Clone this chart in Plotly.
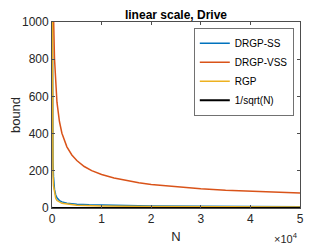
import plotly.graph_objects as go

# Data
n_ss = [20, 50, 100, 200, 300, 500, 750, 1000, 1500, 2000, 3000, 5000, 7500, 10000, 15000, 20000, 30000, 40000, 50000]
drgp_ss = [1500, 950, 500, 250, 170, 100, 70, 55, 40, 33, 26, 20, 17, 15, 12, 11, 9, 8, 7]

n_vss = [100, 200, 300, 500, 750, 1000, 1500, 2000, 3000, 4000, 5000, 6500, 8000, 10000, 12500, 15000, 17500, 20000, 25000, 30000, 35000, 40000, 45000, 50000]
drgp_vss = [1800, 1270, 1040, 805, 657, 569, 465, 402, 329, 285, 255, 223, 201, 180, 161, 147, 136, 127, 114, 104, 96, 90, 85, 81]

n_rgp = [10, 50, 100, 200, 300, 500, 750, 1000, 2000, 5000, 10000, 20000, 30000, 40000, 50000]
rgp = [1500, 700, 350, 180, 120, 75, 52, 40, 25, 15, 11, 8, 6.5, 5.5, 5]

n_ref = [1, 4, 25, 100, 1000, 10000, 50000]
inv_sqrt = [1, 0.5, 0.2, 0.1, 0.032, 0.01, 0.0045]

x_tickvals = [0, 10000, 20000, 30000, 40000, 50000]
x_ticktext = ["0", "1", "2", "3", "4", "5"]
y_tickvals = [0, 200, 400, 600, 800, 1000]

colors = ["#0072BD", "#D95319", "#EDB120", "#000000"]
FONT = "Liberation Sans, Arial, sans-serif"

# page body has an 8px margin, so the figure is sized to fit the 332x249 window
W, H = 324, 241
L, R, T, B = 44, 32, 14, 41
PW, PH = W - L - R, H - T - B

fig = go.Figure()
fig.add_trace(go.Scatter(x=n_ss, y=drgp_ss, mode="lines", name="DRGP-SS",
                         line=dict(color=colors[0], width=1.5)))
fig.add_trace(go.Scatter(x=n_vss, y=drgp_vss, mode="lines", name="DRGP-VSS",
                         line=dict(color=colors[1], width=1.5)))
fig.add_trace(go.Scatter(x=n_rgp, y=rgp, mode="lines", name="RGP",
                         line=dict(color=colors[2], width=1.5)))
fig.add_trace(go.Scatter(x=n_ref, y=inv_sqrt, mode="lines", name="1/sqrt(N)",
                         line=dict(color=colors[3], width=2)))

axis_common = dict(
    showgrid=False, zeroline=False, showline=True, linecolor="#4d4d4d", linewidth=0.8,
    mirror="ticks", ticks="inside", ticklen=3, tickcolor="#4d4d4d",
    tickfont=dict(family=FONT, size=12, color="#262626"),
)

fig.update_layout(
    width=W, height=H,
    margin=dict(l=L, r=R, t=T, b=B, autoexpand=False),
    paper_bgcolor="white", plot_bgcolor="white",
    title=dict(text="<b>linear scale, Drive</b>", x=(L + PW / 2) / W, xanchor="center",
               y=1 - 6.5 / H, yanchor="middle",
               font=dict(family=FONT, size=12, color="#000")),
    xaxis=dict(range=[0, 50000], tickvals=x_tickvals, ticktext=x_ticktext,
               title=dict(text="N", standoff=6,
                          font=dict(family=FONT, size=13, color="#262626")),
               **axis_common),
    yaxis=dict(range=[0, 1000], tickvals=y_tickvals,
               title=dict(text="bound", standoff=6,
                          font=dict(family=FONT, size=13, color="#262626")),
               **axis_common),
    legend=dict(x=(PW - 6) / PW, xref="paper", xanchor="right",
                y=1 - 6 / PH, yanchor="top",
                bgcolor="white", bordercolor="#4d4d4d", borderwidth=0.8,
                font=dict(family=FONT, size=10, color="#000"),
                tracegroupgap=0, itemwidth=30),
    showlegend=True,
)

fig.add_annotation(text="×10<sup>4</sup>", xref="paper", yref="paper",
                   x=1.0, y=-(239 - 200) / PH, xanchor="right", yanchor="bottom",
                   showarrow=False,
                   font=dict(family=FONT, size=11, color="#262626"))

fig.write_html("out.html")
